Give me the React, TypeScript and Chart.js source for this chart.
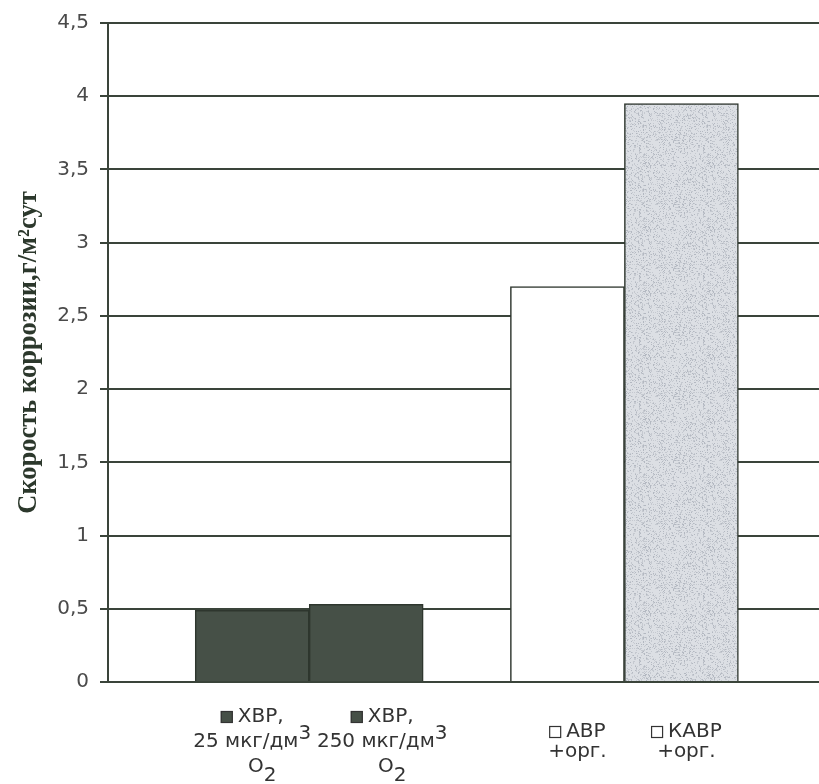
import React, { useEffect, useRef } from "react";
import { Chart, registerables } from "chart.js";

Chart.register(...registerables);

// ---- data ----
const categories: string[][] = [
  ["ХВР,", "25 мкг/дм^3", "O_2"],
  ["ХВР,", "250 мкг/дм^3", "O_2"],
  ["АВР", "+орг."],
  ["КАВР", "+орг."],
];
const corrosionRate: number[] = [0.49, 0.53, 2.7, 3.95];
const yTickLabels: string[] = ["0", "0,5", "1", "1,5", "2", "2,5", "3", "3,5", "4", "4,5"];
const yTitle = "Скорость коррозии,г/м²сут";

// ---- style / layout ----
const LINE = "#3a443a";
const barFills = ["#465047", "#465047", "#ffffff", "speckle"];
const markerFills = ["#465047", "#465047", "#ffffff", "#ffffff"];
const GROUP_GAP = 0.765; // gap between bar pairs, in bar widths
const LABEL_NUDGE = [0, 16, 10, 5]; // horizontal text nudges (px) for the wrapped axis labels
const xPos = categories.map((_, i) => i + Math.floor(i / 2) * GROUP_GAP);

function hash(x: number, y: number) {
  let h = Math.imul(x + 1, 374761393) ^ Math.imul(y + 7, 668265263);
  h = Math.imul(h ^ (h >>> 13), 1274126177);
  h = h ^ (h >>> 16);
  return (h >>> 0) % 1000;
}

function makeSpeckle(ctx: CanvasRenderingContext2D): CanvasPattern | string {
  const n = 64;
  const c = document.createElement("canvas");
  c.width = n;
  c.height = n;
  const g = c.getContext("2d");
  if (!g) return "#d6d9de";
  g.fillStyle = "#dcdfe4";
  g.fillRect(0, 0, n, n);
  for (let y = 0; y < n; y++) {
    for (let x = 0; x < n; x++) {
      const k = hash(x, y);
      if (k < 260) {
        g.fillStyle = k < 80 ? "#b3b8c1" : "#c5c9d0";
        g.fillRect(x, y, 1, 1);
      }
    }
  }
  return ctx.createPattern(c, "repeat") || "#d6d9de";
}

function parseSegments(s: string) {
  return s
    .split(/([\^_].)/)
    .filter((p) => p.length > 0)
    .map((p) =>
      p[0] === "^" ? { t: p.slice(1), dy: -8 } : p[0] === "_" ? { t: p.slice(1), dy: 9 } : { t: p, dy: 0 }
    );
}

const xLabelPlugin = {
  id: "xLabels",
  afterDraw(chart: any) {
    const ctx: CanvasRenderingContext2D = chart.ctx;
    const xs = chart.scales.x;
    const area = chart.chartArea;
    const lineStep = 20;
    const extra = 5;
    const mk = 12;
    const mkGap = 5;
    ctx.save();
    ctx.font = '20px "DejaVu Sans"';
    ctx.textBaseline = "middle";
    ctx.textAlign = "left";
    categories.forEach((lines, i) => {
      const cx = xs.getPixelForValue(xPos[i]) + LABEL_NUDGE[i];
      const offs: number[] = [];
      let acc = 0;
      lines.forEach((l, j) => {
        if (j > 0) {
          acc += lineStep;
          if (/[\^_]/.test(l)) acc += extra;
        }
        offs.push(acc);
      });
      const top = area.bottom + 60 - acc / 2;
      lines.forEach((l, j) => {
        const segs = parseSegments(l);
        const w = segs.reduce((a, s) => a + ctx.measureText(s.t).width, 0);
        const withMarker = j === 0;
        const total = w + (withMarker ? mk + mkGap : 0);
        let x = cx - total / 2 + (/_/.test(l) ? 10 : 0);
        const ly = top + offs[j];
        if (withMarker) {
          ctx.fillStyle = markerFills[i];
          ctx.fillRect(x, ly - mk / 2, mk, mk);
          ctx.strokeStyle = "#333";
          ctx.lineWidth = 1.2;
          ctx.strokeRect(x + 0.5, ly - mk / 2 + 0.5, mk - 1, mk - 1);
          x += mk + mkGap;
        }
        ctx.fillStyle = "#333";
        segs.forEach((s) => {
          ctx.fillText(s.t, x, ly + s.dy);
          x += ctx.measureText(s.t).width;
        });
      });
    });
    ctx.restore();
  },
};

export default function App() {
  const ref = useRef<HTMLCanvasElement | null>(null);

  useEffect(() => {
    const canvas = ref.current;
    if (!canvas) return;
    const ctx = canvas.getContext("2d")!;
    const fills = barFills.map((f) => (f === "speckle" ? makeSpeckle(ctx) : f));
    const chart = new Chart(canvas, {
      type: "bar",
      data: {
        datasets: [
          {
            data: xPos.map((x, i) => ({ x, y: corrosionRate[i] })),
            backgroundColor: fills as any,
            borderColor: "#2e362e",
            borderWidth: 1.5,
            barPercentage: 1,
            categoryPercentage: 1,
          },
        ],
      },
      options: {
        animation: false,
        responsive: true,
        maintainAspectRatio: false,
        layout: { padding: { top: 17, bottom: 102, left: 0, right: 0 } },
        plugins: { legend: { display: false }, tooltip: { enabled: false } },
        scales: {
          x: {
            type: "linear",
            display: false,
            offset: false,
            min: -0.5 - GROUP_GAP,
            max: 4.972,
            afterBuildTicks: (s: any) => {
              s.ticks = xPos.map((v) => ({ value: v }));
            },
          },
          y: {
            min: 0,
            max: 4.5,
            ticks: {
              stepSize: 0.5,
              callback: (_v: any, i: number) => yTickLabels[i],
              font: { family: "DejaVu Sans", size: 20 },
              color: "#4a4a4a",
              padding: 11,
            },
            grid: { color: LINE, lineWidth: 2, tickLength: 8, drawTicks: true },
            border: { display: true, color: LINE, width: 2 },
            title: {
              display: true,
              text: yTitle,
              font: { family: "Liberation Serif", size: 26.5, weight: "bold" },
              color: "#2c382c",
              padding: { top: 13, bottom: 0 },
            },
            afterFit: (s: any) => {
              s.width = 108;
            },
          },
        },
      } as any,
      plugins: [xLabelPlugin],
    });
    return () => chart.destroy();
  }, []);

  return (
    <div style={{ position: "fixed", left: 0, top: 0, width: 819, height: 784, background: "#fff" }}>
      <canvas ref={ref} />
    </div>
  );
}
